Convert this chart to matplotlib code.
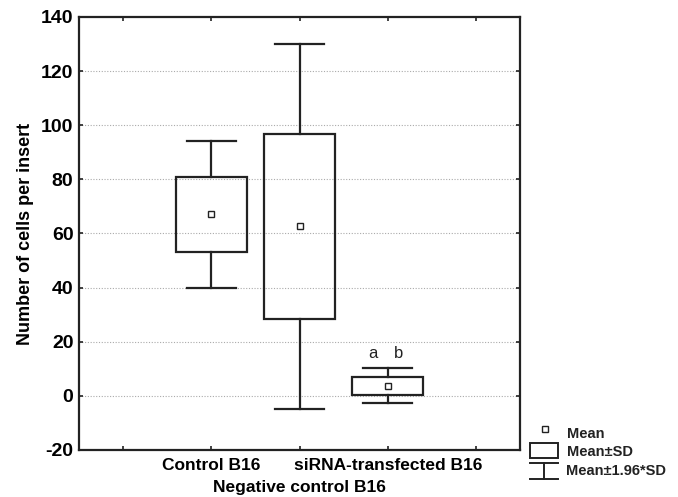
import numpy as np
import matplotlib
matplotlib.use('Agg')
import matplotlib.pyplot as plt
from matplotlib.patches import Rectangle
from matplotlib.transforms import blended_transform_factory

plt.rcParams['font.family'] = ['Liberation Sans', 'DejaVu Sans']

groups = ['Control B16', 'Negative control B16', 'siRNA-transfected B16']
positions = [1, 2, 3]
means = [67.2, 62.6, 3.6]
sd_low = [53.3, 28.4, 0.2]
sd_high = [81.0, 96.8, 7.0]
ci_low = [40.0, -4.7, -2.8]
ci_high = [94.3, 130.0, 10.2]
y_ticks = [-20, 0, 20, 40, 60, 80, 100, 120, 140]

ink = '#222222'
fig = plt.figure(figsize=(6.78, 4.97), dpi=100)
ax = fig.add_axes([0.1165, 0.0946, 0.6505, 0.8714])

box_w = 0.8
cap_w = 0.56
for x, m, lo, hi, wlo, whi in zip(positions, means, sd_low, sd_high, ci_low, ci_high):
    ax.add_patch(Rectangle((x - box_w / 2, lo), box_w, hi - lo, fill=False,
                           edgecolor=ink, lw=1.6, zorder=3))
    ax.plot([x, x], [hi, whi], color=ink, lw=1.6, zorder=3)
    ax.plot([x, x], [wlo, lo], color=ink, lw=1.6, zorder=3)
    ax.plot([x - cap_w / 2, x + cap_w / 2], [whi, whi], color=ink, lw=1.6, zorder=3)
    ax.plot([x - cap_w / 2, x + cap_w / 2], [wlo, wlo], color=ink, lw=1.6, zorder=3)
    ax.plot([x], [m], marker='s', ms=4.5, mfc='white', mec=ink, mew=1.0, zorder=4)

ax.text(2.83, 15.5, 'a', ha='center', va='center', fontsize=12, color=ink)
ax.text(3.12, 15.5, 'b', ha='center', va='center', fontsize=12, color=ink)

ax.set_xlim(-0.5, 4.5)
ax.set_ylim(-20, 140)
ax.set_yticks(y_ticks)
ax.set_yticklabels([str(v) for v in y_ticks], fontsize=14, fontweight='bold')
ax.set_xticks([0, 1, 2, 3, 4])
ax.set_xticklabels(['', groups[0], '', groups[2], ''], fontsize=12.5, fontweight='bold')
# middle label sits one line lower, as in the staggered original
trans = blended_transform_factory(ax.transData, ax.transAxes)
ax.text(positions[1], -0.087, groups[1], transform=trans, ha='center', va='center',
        fontsize=12.5, fontweight='bold', color='black')
ax.tick_params(direction='in', top=True, right=True, length=3, width=1.2, color=ink)
ax.tick_params(axis='x', pad=6)
ax.tick_params(axis='y', pad=4)
for y in y_ticks[1:-1]:
    ax.axhline(y, color='#aaaaaa', lw=0.8, ls=(0, (1, 1.5)), zorder=1)
for s in ax.spines.values():
    s.set_linewidth(1.6)
    s.set_color(ink)
ax.set_ylabel('Number of cells per insert', fontsize=13, fontweight='bold', labelpad=5)

# legend drawn beside the plot
lx0, lx1 = 530 / 678, 558 / 678
def fy(p):
    return 1 - p / 497
fig.lines.append(plt.Line2D([545 / 678], [fy(429)], marker='s', ms=4.5, mfc='white',
                            mec=ink, mew=1.0, transform=fig.transFigure))
fig.patches.append(Rectangle((lx0, fy(458)), lx1 - lx0, fy(443) - fy(458), fill=False,
                             edgecolor=ink, lw=1.4, transform=fig.transFigure))
fig.lines.append(plt.Line2D([lx0, lx1], [fy(463), fy(463)], color=ink, lw=1.4,
                            transform=fig.transFigure))
fig.lines.append(plt.Line2D([(lx0 + lx1) / 2] * 2, [fy(463), fy(479)], color=ink, lw=1.4,
                            transform=fig.transFigure))
fig.lines.append(plt.Line2D([lx0, lx1], [fy(479), fy(479)], color=ink, lw=1.4,
                            transform=fig.transFigure))
fig.text(567 / 678, fy(434), 'Mean', fontsize=10.5, fontweight='bold', va='center', color=ink)
fig.text(567 / 678, fy(452), 'Mean±SD', fontsize=10.5, fontweight='bold', va='center', color=ink)
fig.text(566 / 678, fy(471), 'Mean±1.96*SD', fontsize=10.5, fontweight='bold', va='center', color=ink)

fig.savefig('out.png', dpi=100)
